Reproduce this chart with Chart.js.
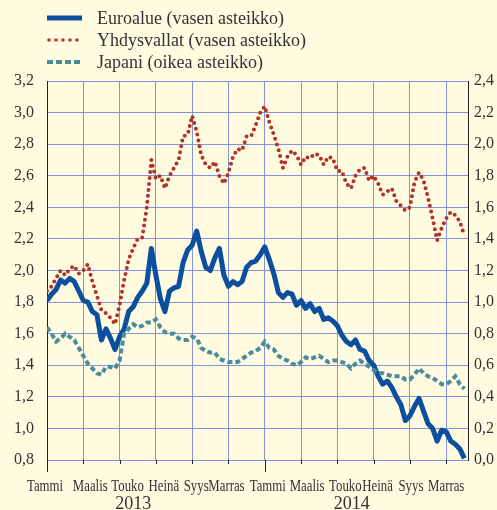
<!DOCTYPE html>
<html>
<head>
<meta charset="utf-8">
<script src="https://cdn.jsdelivr.net/npm/chart.js@4.4.0/dist/chart.umd.min.js"></script>
<style>
html, body { margin: 0; padding: 0; background: #fefbe1; }
#wrap { position: relative; width: 497px; height: 510px; }
#legend { position: absolute; left: 47px; top: 7px; font-family: 'Liberation Serif', 'DejaVu Serif', serif; font-size: 18px; color: #333; }
.row { display: flex; align-items: center; height: 22px; }
.row svg { width: 36px; height: 10px; margin-right: 14px; }
</style>
</head>
<body>
<div id="wrap">
  <canvas id="chart" width="497" height="510"></canvas>
  <div id="legend">
    <div class="row"><svg><line x1="0" y1="5" x2="35" y2="5" stroke="#0b4f9e" stroke-width="5"/></svg>Euroalue (vasen asteikko)</div>
    <div class="row"><svg><line x1="2" y1="5" x2="35" y2="5" stroke="#b0332b" stroke-width="3.5" stroke-linecap="round" stroke-dasharray="0 7"/></svg>Yhdysvallat (vasen asteikko)</div>
    <div class="row"><svg><line x1="0" y1="5" x2="36" y2="5" stroke="#4b8b9c" stroke-width="4" stroke-dasharray="6 3"/></svg>Japani (oikea asteikko)</div>
  </div>
</div>
<script>
// aika-akseli: kuukausia tammikuun 2013 alusta, viikon välein
const weekPos = [
  0, 0.25, 0.5, 0.75, 1, 1.25, 1.5, 1.75,
  2, 2.25, 2.5, 2.75, 3, 3.25, 3.5, 3.75,
  4, 4.25, 4.5, 4.75, 5, 5.25, 5.5, 5.75,
  6, 6.25, 6.5, 6.75, 7, 7.25, 7.5, 7.75,
  8, 8.25, 8.5, 8.75, 9, 9.25, 9.5, 9.75,
  10, 10.25, 10.5, 10.75, 11, 11.25, 11.5, 11.75,
  12, 12.25, 12.5, 12.75, 13, 13.25, 13.5, 13.75,
  14, 14.25, 14.5, 14.75, 15, 15.25, 15.5, 15.75,
  16, 16.25, 16.5, 16.75, 17, 17.25, 17.5, 17.75,
  18, 18.25, 18.5, 18.75, 19, 19.25, 19.5, 19.75,
  20, 20.25, 20.5, 20.75, 21, 21.25, 21.5, 21.75,
  22, 22.25, 22.5, 22.75, 23
];

// Euroalue (vasen asteikko)
const euro = [
  1.81, 1.85, 1.88, 1.94, 1.92, 1.95, 1.93, 1.87,
  1.81, 1.80, 1.74, 1.72, 1.56, 1.63, 1.57, 1.50,
  1.58, 1.63, 1.74, 1.77, 1.83, 1.87, 1.92, 2.14,
  1.97, 1.82, 1.74, 1.87, 1.89, 1.90, 2.05, 2.13,
  2.16, 2.25, 2.12, 2.02, 2.00, 2.08, 2.14, 1.97,
  1.90, 1.93, 1.91, 1.93, 2.02, 2.05, 2.06, 2.10,
  2.15, 2.07, 1.98, 1.86, 1.83, 1.86, 1.85, 1.78,
  1.81, 1.76, 1.79, 1.74, 1.76, 1.69, 1.70, 1.68,
  1.65, 1.59, 1.55, 1.53, 1.56, 1.50, 1.49, 1.43,
  1.40, 1.33, 1.28, 1.30, 1.26, 1.20, 1.15, 1.05,
  1.08, 1.14, 1.19, 1.11, 1.03, 1.00, 0.92, 0.99,
  0.98, 0.92, 0.90, 0.87, 0.81
];

// Yhdysvallat (vasen asteikko)
const usa = [
  1.87, 1.90, 1.95, 2.00, 1.97, 2.01, 2.03, 1.98,
  2.00, 2.04, 1.93, 1.84, 1.75, 1.73, 1.70, 1.66,
  1.78, 1.94, 2.07, 2.14, 2.20, 2.21, 2.40, 2.70,
  2.58, 2.60, 2.52, 2.60, 2.65, 2.70, 2.85, 2.86,
  2.98, 2.88, 2.73, 2.67, 2.65, 2.69, 2.60, 2.55,
  2.62, 2.72, 2.77, 2.76, 2.85, 2.85, 2.92, 3.00,
  3.04, 2.94, 2.86, 2.77, 2.65, 2.72, 2.76, 2.73,
  2.67, 2.72, 2.71, 2.74, 2.73, 2.67, 2.72, 2.71,
  2.63, 2.63, 2.55, 2.52, 2.60, 2.64, 2.65, 2.57,
  2.60, 2.55, 2.48, 2.50, 2.52, 2.44, 2.41, 2.38,
  2.40, 2.56, 2.62, 2.57, 2.46, 2.33, 2.19, 2.27,
  2.33, 2.37, 2.35, 2.31, 2.22
];

// Japani (oikea asteikko)
const japan = [
  0.84, 0.80, 0.75, 0.77, 0.80, 0.78, 0.76, 0.71,
  0.66, 0.61, 0.58, 0.55, 0.54, 0.59, 0.59, 0.58,
  0.63, 0.80, 0.83, 0.86, 0.84, 0.85, 0.87, 0.87,
  0.89, 0.84, 0.81, 0.80, 0.80, 0.77, 0.76, 0.76,
  0.78, 0.77, 0.71, 0.69, 0.68, 0.68, 0.64, 0.63,
  0.62, 0.62, 0.62, 0.64, 0.66, 0.68, 0.69, 0.71,
  0.75, 0.71, 0.70, 0.66, 0.64, 0.63, 0.61, 0.60,
  0.62, 0.65, 0.64, 0.65, 0.66, 0.64, 0.62, 0.63,
  0.63, 0.62, 0.61, 0.58, 0.61, 0.63, 0.61, 0.59,
  0.57, 0.55, 0.55, 0.54, 0.53, 0.53, 0.53, 0.51,
  0.51, 0.54, 0.58, 0.55, 0.53, 0.52, 0.50, 0.48,
  0.48, 0.50, 0.53, 0.48, 0.45
];

const months = ['Tammi', 'Maalis', 'Touko', 'Heinä', 'Syys', 'Marras',
                'Tammi', 'Maalis', 'Touko', 'Heinä', 'Syys', 'Marras'];
const monthTicks = [0, 2, 4, 6, 8, 10, 12, 14, 16, 18, 20, 22];
const years = ['2013', '2014'];
const yearPos = [4.75, 16.8];
const leftTicks = [0.8, 1.0, 1.2, 1.4, 1.6, 1.8, 2.0, 2.2, 2.4, 2.6, 2.8, 3.0, 3.2];
const rightTicks = [0, 0.2, 0.4, 0.6, 0.8, 1.0, 1.2, 1.4, 1.6, 1.8, 2.0, 2.2, 2.4];

const gridBlue = '#8494d8';
const textColor = '#333';
const serif = "'Liberation Serif', 'DejaVu Serif', serif";
const labelShift = [-2, 7, 8, 8, 4, -2, 3, 6, 8, 4, 1, 0];
const fmt = v => v.toFixed(1).replace('.', ',');

// kuukausien nimet, vuodet ja x-akselin tikit
const xLabels = {
    id: 'xLabels',
    afterDraw(chart) {
        const { ctx, chartArea } = chart;
        const x = chart.scales.x;
        ctx.save();
        ctx.strokeStyle = '#222';
        ctx.lineWidth = 1;
        monthTicks.forEach((v, i) => {
            const px = Math.round(x.getPixelForValue(v)) + 0.5;
            const len = i % 6 === 0 ? 12 : 4;
            ctx.beginPath();
            ctx.moveTo(px, chartArea.bottom);
            ctx.lineTo(px, chartArea.bottom + len);
            ctx.stroke();
        });
        ctx.fillStyle = textColor;
        ctx.textAlign = 'center';
        ctx.textBaseline = 'alphabetic';
        ctx.font = '16px ' + serif;
        months.forEach((m, i) => {
            ctx.save();
            ctx.translate(x.getPixelForValue(monthTicks[i]) + labelShift[i], 491);
            ctx.scale(0.8, 1);
            ctx.fillText(m, 0, 0);
            ctx.restore();
        });
        ctx.font = '18px ' + serif;
        years.forEach((y, i) => ctx.fillText(y, x.getPixelForValue(yearPos[i]), 509));
        ctx.restore();
    }
};

const toPoints = vals => weekPos.map((x, i) => ({ x: x, y: vals[i] }));

const chart = new Chart(document.getElementById('chart'), {
    type: 'line',
    data: {
        datasets: [{
            label: 'Euroalue (vasen asteikko)',
            data: toPoints(euro),
            yAxisID: 'y',
            borderColor: '#0b4f9e',
            borderWidth: 5,
            borderJoinStyle: 'round',
            pointRadius: 0,
            tension: 0,
            order: 3
        }, {
            label: 'Yhdysvallat (vasen asteikko)',
            data: toPoints(usa),
            yAxisID: 'y',
            borderColor: '#b0332b',
            borderWidth: 4,
            borderDash: [0, 6],
            borderCapStyle: 'round',
            pointRadius: 0,
            tension: 0,
            order: 2
        }, {
            label: 'Japani (oikea asteikko)',
            data: toPoints(japan),
            yAxisID: 'y2',
            borderColor: '#4b8b9c',
            borderWidth: 4,
            borderDash: [5, 3],
            pointRadius: 0,
            tension: 0,
            order: 1
        }]
    },
    options: {
        responsive: false,
        animation: false,
        layout: { padding: { top: 81, left: 0, right: 0, bottom: 0 } },
        plugins: {
            legend: { display: false },
            tooltip: { enabled: false }
        },
        scales: {
            x: {
                type: 'linear',
                min: 0,
                max: 23.2,
                afterBuildTicks: s => { s.ticks = monthTicks.map(v => ({ value: v })); },
                afterFit: s => { s.height = 50; },
                ticks: { display: false },
                grid: {
                    drawTicks: false,
                    color: c => (c.tick && c.tick.value === 0) ? 'rgba(0,0,0,0)' : gridBlue
                },
                border: { display: false }
            },
            y: {
                position: 'left',
                min: 0.8,
                max: 3.2,
                afterBuildTicks: s => { s.ticks = leftTicks.map(v => ({ value: v })); },
                afterFit: s => { s.width = 47; },
                ticks: {
                    padding: 13,
                    color: textColor,
                    font: { family: serif, size: 16 },
                    callback: fmt
                },
                grid: { drawTicks: false, color: gridBlue },
                border: { color: '#222', width: 1 }
            },
            y2: {
                position: 'right',
                min: 0,
                max: 2.4,
                afterBuildTicks: s => { s.ticks = rightTicks.map(v => ({ value: v })); },
                afterFit: s => { s.width = 29; },
                ticks: {
                    padding: 6,
                    color: textColor,
                    font: { family: serif, size: 16 },
                    callback: fmt
                },
                grid: { drawTicks: false, drawOnChartArea: false },
                border: { color: '#222', width: 1 }
            }
        }
    },
    plugins: [xLabels]
});
</script>
</body>
</html>
